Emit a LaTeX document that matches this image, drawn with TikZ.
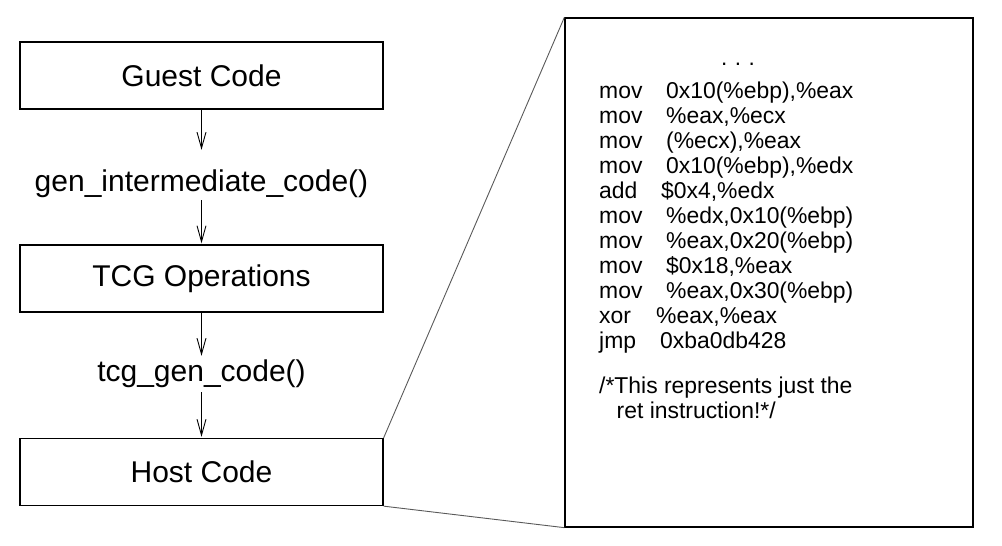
\documentclass[tikz,border=0pt]{standalone}
\usepackage{fontspec}
\setmainfont{Liberation Sans}
\usetikzlibrary{arrows.meta}
\begin{document}
\begin{tikzpicture}[x=1pt,y=-1pt,
 box/.style={draw,line width=1.3pt,minimum width=363pt,minimum height=67pt,inner sep=0pt,font=\fontsize{30}{34}\selectfont},
 lbl/.style={inner sep=0pt,text height=21pt,text depth=7pt,anchor=base,font=\fontsize{30}{34}\selectfont},
 flow/.style={-{Straight Barb[length=16pt,width=9pt]},line width=0.9pt},
 zoomline/.style={draw=black!65,line width=0.9pt},
 codebox/.style={draw,line width=1.3pt,minimum width=408pt,minimum height=509pt,inner sep=0pt},
 code/.style={inner sep=0pt,anchor=base west,font=\fontsize{22.9}{25}\selectfont}]
\useasboundingbox (0,0) rectangle (1002,546);
% left flow
\node[box] (guest) at (201.5,75.5) {Guest Code};
\node[lbl] (gen) at (201.5,191) {gen\_intermediate\_code()};
\node[box] (tcg) at (201.5,278.5) {TCG Operations};
\node[lbl] (tcgl) at (201.5,381) {tcg\_gen\_code()};
\node[box] (host) at (201.5,472) {Host Code};
\draw[flow,shorten >=20pt] (guest.south) -- (gen.north);
\draw[flow,shorten <=2pt,shorten >=1pt] (gen.south) -- (tcg.north);
\draw[flow,shorten >=4pt] (tcg.south) -- (tcgl.north);
\draw[flow,shorten <=4pt,shorten >=1pt] (tcgl.south) -- (host.north);
% code box
\node[codebox] (cbox) at (769,272.5) {};
\draw[zoomline] (host.north east) -- (cbox.north west);
\draw[zoomline] (host.south east) -- (cbox.south west);
\node[inner sep=0pt,anchor=base,font=\fontsize{22.5}{25}\selectfont] (dots) at (738,65) {.\,\,.\,\,.};
\node[code] (m1) at (599,98) {mov};   \node[code] (o1) at (666,98) {0x10(\%ebp),\%eax};
\node[code] (m2) at (599,123) {mov};  \node[code] (o2) at (666,123) {\%eax,\%ecx};
\node[code] (m3) at (599,148) {mov};  \node[code] (o3) at (666,148) {(\%ecx),\%eax};
\node[code] (m4) at (599,173) {mov};  \node[code] (o4) at (666,173) {0x10(\%ebp),\%edx};
\node[code] (m5) at (599,198) {add};  \node[code] (o5) at (661,198) {\$0x4,\%edx};
\node[code] (m6) at (599,223) {mov};  \node[code] (o6) at (666,223) {\%edx,0x10(\%ebp)};
\node[code] (m7) at (599,248) {mov};  \node[code] (o7) at (666,248) {\%eax,0x20(\%ebp)};
\node[code] (m8) at (599,273) {mov};  \node[code] (o8) at (666,273) {\$0x18,\%eax};
\node[code] (m9) at (599,298) {mov};  \node[code] (o9) at (666,298) {\%eax,0x30(\%ebp)};
\node[code] (m10) at (599,323) {xor}; \node[code] (o10) at (656,323) {\%eax,\%eax};
\node[code] (m11) at (599,348) {jmp}; \node[code] (o11) at (660,348) {0xba0db428};
\node[code] (c1) at (599,393) {/*This represents just the};
\node[code] (c2) at (616.5,418) {ret instruction!*/};
\end{tikzpicture}
\end{document}
